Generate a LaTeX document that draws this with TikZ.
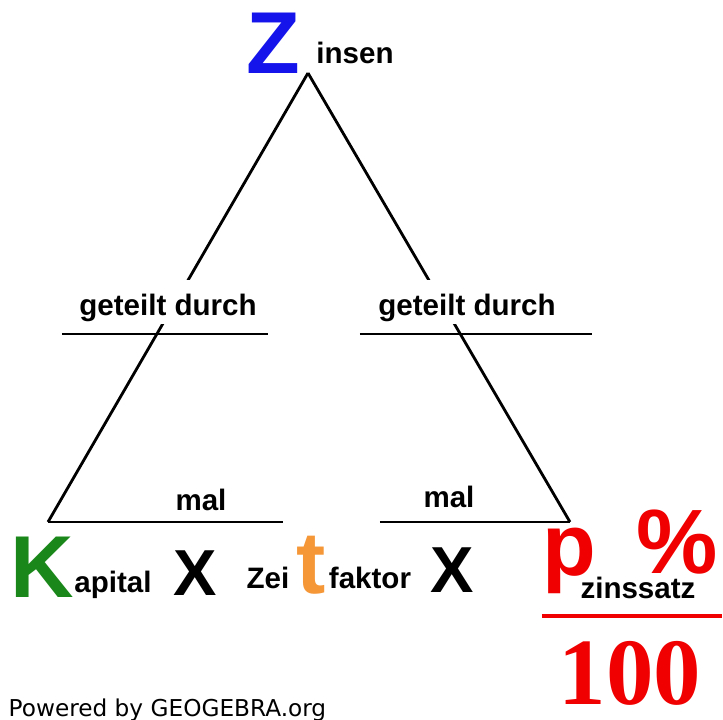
\documentclass[tikz,border=0pt]{standalone}
\usepackage{fontspec}
\setmainfont{Liberation Sans}
\newfontfamily\numfont{Liberation Serif}
\newfontfamily\gebfont{DejaVu Sans}
\usetikzlibrary{positioning,calc}
\definecolor{ZinsBlue}{RGB}{20, 20, 235}
\definecolor{KapGreen}{RGB}{25, 135, 25}
\definecolor{ZeitOrange}{RGB}{245, 150, 55}
\definecolor{SatzRed}{RGB}{240, 0, 0}

\tikzset{
  big/.style={inner sep=0pt, anchor=base, font=\fontsize{25}{25}\selectfont\bfseries},
  small/.style={inner sep=0pt, anchor=base, font=\fontsize{8.4}{9}\selectfont\bfseries},
  cut/.style={small, fill=white, inner xsep=1pt, inner ysep=0pt, text height=10pt, text depth=2.5pt},
  bar/.style={line width=0.8pt},
}

\begin{document}
\begin{tikzpicture}[x=0.01cm, y=-0.01cm]
  \useasboundingbox (0,0) rectangle (723,720);

  % Triangle corners
  \coordinate (apex) at (308,73);
  \coordinate (lcorner) at (48,522);
  \coordinate (rcorner) at (570,522);

  % Sides of the triangle
  \draw[bar] (apex) -- (lcorner);
  \draw[bar] (apex) -- (rcorner);

  % geteilt durch
  \node[cut] (divl) at (168,315) {geteilt durch};
  \node[cut] (divr) at (467,315) {geteilt durch};
  \coordinate (dl1) at (62,334);  \coordinate (dl2) at (268,334);
  \coordinate (dr1) at (360,334); \coordinate (dr2) at (592,334);
  \draw[bar] (dl1) -- (dl2);
  \draw[bar] (dr1) -- (dr2);

  % mal
  \node[small] (mall) at (201,510) {mal};
  \node[small] (malr) at (449,507) {mal};
  \coordinate (ml2) at (283,522);
  \coordinate (mr1) at (380,522);
  \draw[bar] (lcorner) -- (ml2);
  \draw[bar] (mr1) -- (rcorner);

  % Zinsen
  \node[big, ZinsBlue] (zZ) at (273,73) {Z};
  \node[small] (zinsen) at (355,63) {insen};

  % Kapital x Zeitfaktor x p
  \node[big, KapGreen] (kK) at (42,597) {K};
  \node[small] (kapital) at (113,592) {apital};
  \node[inner sep=0pt, anchor=base, font=\fontsize{18.5}{19}\selectfont\bfseries] (xl) at (195,595) {X};
  \node[small] (zei) at (268,588) {Zei};
  \node[big, ZeitOrange] (tt) at (311,593) {t};
  \node[small] (faktor) at (370,588) {faktor};
  \node[inner sep=0pt, anchor=base, font=\fontsize{18.5}{19}\selectfont\bfseries] (xr) at (452,592) {X};

  % Zinssatz
  \node[big, SatzRed] (pp) at (569,575) {p};
  \node[small] (zinssatz) at (638,598) {zinssatz};
  \node[inner sep=0pt, anchor=base, SatzRed, font=\fontsize{26}{26}\selectfont\bfseries] (pct) at (677,573) {\%};
  \coordinate (fr1) at (542,616);
  \coordinate (fr2) at (722,616);
  \draw[SatzRed, line width=1pt] (fr1) -- (fr2);
  \node[inner sep=0pt, anchor=base, SatzRed, font=\numfont\fontsize{27}{27}\selectfont\bfseries] (hundred) at (630,704) {100};

  % Footer
  \node[inner sep=0pt, anchor=base west, font=\gebfont\fontsize{6.6}{7}\selectfont] (geb) at (8,716) {Powered by GEOGEBRA.org};
\end{tikzpicture}
\end{document}
